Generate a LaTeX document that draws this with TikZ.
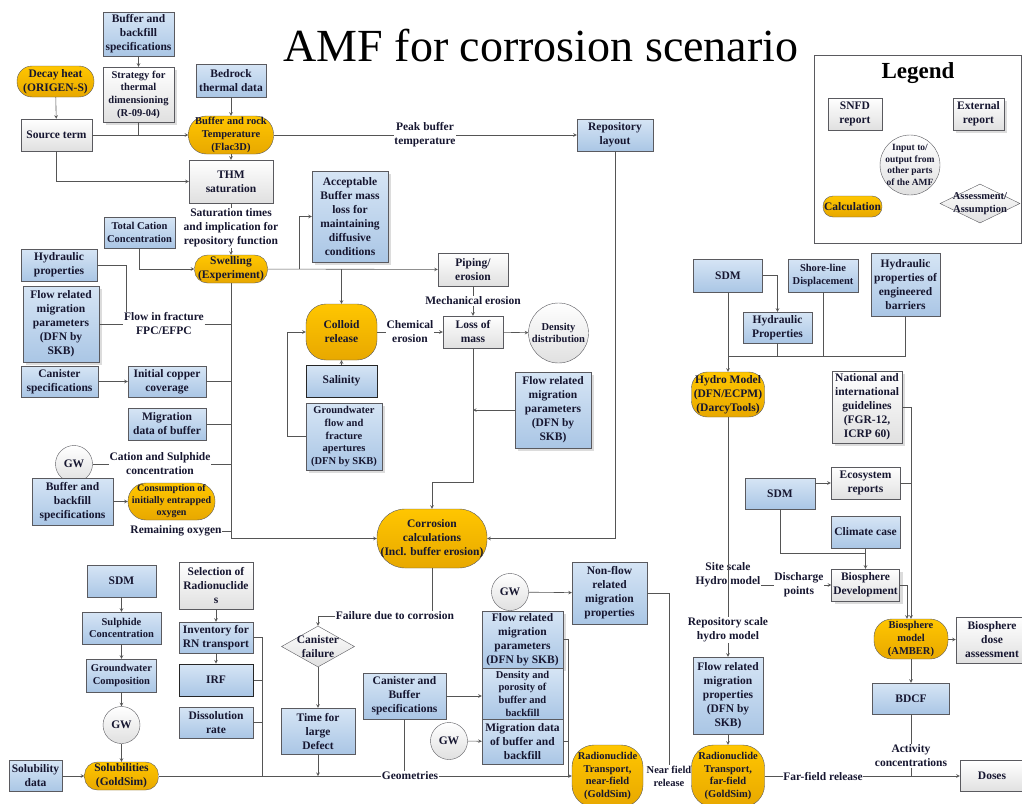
\documentclass[tikz,border=0pt]{standalone}
\usepackage{fontspec}
\setmainfont{Liberation Serif}
\usepackage{tikz}
\usetikzlibrary{positioning,shapes,arrows,calc,shadows}

\definecolor{bluetop}{RGB}{214,229,245}
\definecolor{bluebot}{RGB}{170,198,229}
\definecolor{orgtop}{RGB}{255,198,0}
\definecolor{orgbot}{RGB}{232,168,0}
\definecolor{greybot}{RGB}{224,224,224}
\definecolor{bord}{RGB}{90,90,95}
\definecolor{linec}{RGB}{85,85,85}
\definecolor{txt}{RGB}{22,22,48}

\tikzstyle{base} = [rectangle, draw=bord, align=center, inner sep=0.5pt, text=txt, font=\bfseries\fontsize{11.5}{14}\selectfont]
\tikzstyle{small} = [font=\bfseries\fontsize{10.5}{12.7}\selectfont]
\tikzstyle{datab} = [base, top color=bluetop, bottom color=bluebot]
\tikzstyle{rep} = [base, top color=white, bottom color=greybot]
\tikzstyle{calcn} = [base, rounded corners=13pt, top color=orgtop, bottom color=orgbot]
\tikzstyle{gwc} = [base, circle, top color=white, bottom color=greybot, minimum size=37pt]
\tikzstyle{assess} = [base, diamond, top color=white, bottom color=greybot, inner sep=0pt]
\tikzstyle{lbl} = [align=center, inner sep=0.5pt, text=txt, font=\bfseries\fontsize{11.5}{14}\selectfont]
\tikzstyle{shad} = [drop shadow={shadow xshift=3pt, shadow yshift=-3pt, fill=gray!55}]
\tikzstyle{heavy} = [draw=black!85, line width=1pt]
\tikzstyle{conn} = [draw=linec, line width=0.6pt]
\tikzstyle{arrow} = [conn,->,>=stealth]
\tikzset{wh/.style 2 args={minimum width=#1pt, minimum height=#2pt}}

\begin{document}
\begin{tikzpicture}[x=1pt, y=-1pt]
\useasboundingbox (0,0) rectangle (1022,803);

\node (title) [lbl, text=black, font=\fontsize{46}{46}\selectfont] at (541,46) {AMF for corrosion scenario};

% legend
\node (legend) [draw=bord, minimum width=207pt, minimum height=188pt] at (917.5,149) {};
\node (legtitle) [lbl, text=black, font=\bfseries\fontsize{23}{23}\selectfont] at (918,73) {Legend};
\node (snfd) [rep, wh={54}{32}] at (855,114) {SNFD\\report};
\node (extr) [rep, shad, wh={51}{32}] at (978.5,114) {External\\report};
\node (inout) [gwc, minimum size=60pt] at (910,165) {};
\node (inouttxt) [lbl, font=\bfseries\fontsize{9.5}{11.5}\selectfont] at (inout) {Input to/\\output from\\other parts\\of the AMF};
\node (calclg) [calcn, rounded corners=10pt, wh={59}{21}] at (852.5,206.5) {Calculation};
\node (assum) [assess, wh={80}{39}] at (980,203.5) {};
\node (assumtxt) [lbl, small] at (assum) {Assessment/\\Assumption};

% thermal part
\node (bbsa) [datab, wh={71}{44}] at (138.5,34) {Buffer and\\backfill\\specifications};
\node (decay) [calcn, rounded corners=15pt, wh={77}{31}] at (55.5,81.5) {Decay heat\\(ORIGEN-S)};
\node (strat) [rep, shad, small, wh={71}{55}] at (138.5,94.5) {Strategy for\\thermal\\dimensioning\\(R-09-04)};
\node (bedrock) [datab, wh={70}{33}] at (231,80.5) {Bedrock\\thermal data};
\node (source) [rep, wh={71}{32}] at (56.5,135) {Source term};
\node (temp) [calcn, small, rounded corners=18pt, wh={85}{38}] at (231,135) {Buffer and rock\\Temperature\\(Flac3D)};
\node (thm) [rep, wh={84}{43}] at (231,181.5) {THM\\saturation};
\node (satlbl) [lbl] at (231,228) {Saturation times\\and implication for\\repository function};
\node (peaklbl) [lbl] at (425,135) {Peak buffer\\temperature};
\node (layout) [datab, wh={76}{32}] at (615,135) {Repository\\layout};

% buffer and canister inputs
\node (tcc) [datab, small, wh={71}{31}] at (139.5,232.5) {Total Cation\\Concentration};
\node (swell) [calcn, wh={73}{28}] at (231,269) {Swelling\\(Experiment)};
\node (hydp) [datab, wh={76}{32}] at (59,265) {Hydraulic\\properties};
\node (frpa) [datab, shad, wh={76}{76}] at (61,324) {Flow related\\migration\\parameters\\(DFN by\\SKB)};
\node (flowlbl) [lbl] at (164,324) {Flow in fracture\\FPC/EFPC};
\node (cans) [datab, wh={77}{31}] at (59.5,381.5) {Canister\\specifications};
\node (copper) [datab, wh={78}{31}] at (167,381.5) {Initial copper\\coverage};
\node (migb) [datab, wh={78}{32}] at (167,424) {Migration\\data of buffer};
\node (gwa) [gwc] at (74,464) {GW};
\node (catlbl) [lbl] at (160,464) {Cation and Sulphide\\concentration};
\node (bbsb) [datab, wh={81}{47}] at (72.5,501.5) {Buffer and\\backfill\\specifications};
\node (oxy) [calcn, font=\bfseries\fontsize{10}{12}\selectfont, rounded corners=18pt, wh={87}{37}] at (171.5,501.5) {Consumption of\\initially entrapped\\oxygen};
\node (remlbl) [lbl] at (176,531) {Remaining oxygen};

% erosion
\node (accb) [datab, shad, wh={76}{91}] at (350,216.5) {Acceptable\\Buffer mass\\loss for\\maintaining\\diffusive\\conditions};
\node (piping) [rep, wh={70}{33}] at (473,269.5) {Piping/\\erosion};
\node (colloid) [calcn, rounded corners=20pt, wh={71}{56}] at (341.5,332) {Colloid\\release};
\node (salin) [datab, heavy, wh={71}{32}] at (341.5,381) {Salinity};
\node (gwflow) [datab, shad, small, wh={76}{67}] at (344,436.5) {Groundwater\\flow and\\fracture\\apertures\\(DFN by SKB)};
\node (chemlbl) [lbl] at (410,332) {Chemical\\erosion};
\node (mechlbl) [lbl] at (473,301) {Mechanical erosion};
\node (loss) [rep, wh={60}{32}] at (473,332) {Loss of\\mass};
\node (density) [gwc, small, minimum size=60pt] at (558.5,333) {Density\\distribution};
\node (frpb) [datab, shad, wh={76}{76}] at (553,410) {Flow related\\migration\\parameters\\(DFN by\\SKB)};
\node (corr) [calcn, rounded corners=28pt, wh={110}{59}] at (432,538.5) {Corrosion\\calculations\\(Incl. buffer erosion)};

% failure and near field
\node (faillbl) [lbl] at (395,616) {Failure due to corrosion};
\node (fail) [assess, wh={73}{41}] at (318,646.5) {};
\node (failtxt) [lbl] at (fail) {Canister\\failure};
\node (ldef) [datab, wh={74}{46}] at (318,731) {Time for\\large\\Defect};
\node (cbs) [datab, wh={83}{46}] at (404.5,696) {Canister and\\Buffer\\specifications};
\node (gwb) [gwc] at (510,592) {GW};
\node (nonflow) [datab, wh={75}{62}] at (609.5,593) {Non-flow\\related\\migration\\properties};
\node (frpc) [datab, shad, wh={81}{57}] at (522.5,639.5) {Flow related\\migration\\parameters\\(DFN by SKB)};
\node (dens) [datab, small, wh={81}{51}] at (522.5,693.5) {Density and\\porosity of\\buffer and\\backfill};
\node (migbb) [datab, wh={81}{45}] at (522.5,741.5) {Migration data\\of buffer and\\backfill};
\node (gwc) [gwc] at (449,741) {GW};
\node (rnnear) [calcn, small, rounded corners=22pt, wh={71}{62}] at (607.5,776) {Radionuclide\\Transport,\\near-field\\(GoldSim)};
\node (nearlbl) [lbl, small] at (669,776) {Near field\\release};
\node (geomlbl) [lbl] at (410,776) {Geometries};

% solubility and inventory
\node (sdmc) [datab, wh={69}{32}] at (121.5,581) {SDM};
\node (sulph) [datab, small, wh={79}{32}] at (121.5,628) {Sulphide\\Concentration};
\node (gwcomp) [datab, small, wh={70}{33}] at (121.5,675.5) {Groundwater\\Composition};
\node (gwd) [gwc] at (121.5,725) {GW};
\node (solub) [calcn, wh={74}{28}] at (121.5,776) {Solubilities\\(GoldSim)};
\node (soldat) [datab, wh={53}{31}] at (35.5,776) {Solubility\\data};
\node (selrn) [rep, wh={74}{47}] at (216,585.5) {Selection of\\Radionuclide\\s};
\node (inv) [datab, wh={74}{31}] at (216,637.5) {Inventory for\\RN transport};
\node (irf) [datab, heavy, wh={74}{32}] at (216,680) {IRF};
\node (dissol) [datab, wh={74}{31}] at (216,722.5) {Dissolution\\rate};

% hydro and far field
\node (sdma) [datab, wh={69}{33}] at (728,275.5) {SDM};
\node (shore) [datab, small, wh={70}{33}] at (823,275.5) {Shore-line\\Displacement};
\node (hpeng) [datab, wh={69}{63}] at (905.5,284.5) {Hydraulic\\properties of\\engineered\\barriers};
\node (hydprop) [datab, wh={69}{31}] at (777.5,327.5) {Hydraulic\\Properties};
\node (hydro) [calcn, rounded corners=16pt, wh={73}{45}] at (728,394.5) {Hydro Model\\(DFN/ECPM)\\(DarcyTools)};
\node (sitelbl) [lbl] at (728,575) {Site scale\\Hydro model};
\node (replbl) [lbl] at (728,630) {Repository scale\\hydro model};
\node (frpd) [datab, wh={70}{77}] at (728,695.5) {Flow related\\migration\\properties\\(DFN by\\SKB)};
\node (rnfar) [calcn, small, rounded corners=22pt, wh={73}{62}] at (728,776) {Radionuclide\\Transport,\\far-field\\(GoldSim)};
\node (farlbl) [lbl] at (823,776) {Far-field release};
\node (natl) [rep, shad, wh={70}{72}] at (867,407) {National and\\international\\guidelines\\(FGR-12,\\ICRP 60)};
\node (sdmb) [datab, wh={70}{31}] at (780,493.5) {SDM};
\node (eco) [rep, wh={69}{32}] at (865.5,483) {Ecosystem\\reports};
\node (climate) [datab, wh={69}{32}] at (865.5,532) {Climate case};
\node (dischlbl) [lbl] at (799,585) {Discharge\\points};
\node (biodev) [rep, shad, wh={68}{32}] at (865.5,585) {Biosphere\\Development};
\node (biomod) [calcn, small, rounded corners=18pt, wh={74}{40}] at (911,639) {Biosphere\\model\\(AMBER)};
\node (biodose) [rep, wh={72}{46}] at (992,640) {Biosphere\\dose\\assessment};
\node (bdcf) [datab, wh={77}{31}] at (911,698.5) {BDCF};
\node (actlbl) [lbl] at (911,756) {Activity\\concentrations};
\node (doses) [rep, wh={64}{31}] at (992,776) {Doses};

\coordinate (jsw) at (299,269);
\coordinate (jloss) at (473,482);
\coordinate (jstack) at (568,776);
\coordinate (jrn) at (262,776);
\coordinate (jhyd) at (728,356);
\coordinate (jbio) at (865.5,553);

% thermal
\draw [arrow] (decay) -- (source);
\draw [arrow] (bbsa) -- (strat);
\draw [conn] (strat) -- (strat |- source);
\draw [arrow] (source) -- (temp);
\draw [arrow] (bedrock) -- (temp);
\draw [arrow] (source) |- (thm);
\draw [arrow] (temp) -- (thm);
\draw [conn] (temp) -- (peaklbl);
\draw [arrow] (peaklbl) -- (layout);
\draw [conn] (thm) -- (satlbl);
\draw [arrow] (satlbl) -- (swell);
\draw [arrow] (tcc) |- (swell);

% trunk into corrosion
\draw [arrow] (swell) |- (corr);
\draw [conn] (hydp) -| ([xshift=3pt]flowlbl.north west);
\draw [conn] (frpa) -- (flowlbl);
\draw [conn] (flowlbl) -- (flowlbl -| swell);
\draw [arrow] (cans) -- (copper);
\draw [conn] (copper) -- (copper -| swell);
\draw [conn] (migb) -- (migb -| swell);
\draw [conn] (gwa) -- (catlbl);
\draw [conn] (catlbl) -- (catlbl -| swell);
\draw [arrow] (bbsb) -- (oxy);
\draw [conn] (remlbl) -- (remlbl -| swell);

% erosion
\draw [arrow] (swell) -- (piping);
\draw [arrow] (jsw) |- (accb);
\draw [arrow] (colloid |- swell) -- (colloid);
\draw [arrow] (salin) -- (colloid);
\draw [arrow] (gwflow.west) -- ++(-19,0) |- (colloid);
\draw [conn] (colloid) -- (chemlbl);
\draw [arrow] (chemlbl) -- (loss);
\draw [conn] (piping) -- (mechlbl);
\draw [arrow] (mechlbl) -- (loss);
\draw [arrow] (loss) -- (density);
\draw [arrow] (loss) -- (jloss) -| (corr);
\draw [arrow] (frpb) -- (frpb -| loss);
\draw [arrow] (layout) |- (corr);

% failure and near field
\draw [conn] (corr) -- (corr |- faillbl.north);
\draw [arrow] (faillbl) -| (fail);
\draw [arrow] (fail) -- (ldef);
\draw [arrow] (ldef) -- (ldef |- solub);
\draw [conn] (solub) -- (geomlbl);
\draw [arrow] (geomlbl) -- (rnnear);
\draw [conn] (cbs) -- (cbs |- geomlbl.north);
\draw [arrow] (cbs) -- (cbs -| dens.west);
\draw [arrow] (gwb) -- (nonflow);
\draw [arrow] (gwc) -- (migbb);
\draw [conn] (frpc) -| (jstack);
\draw [conn] (migbb) -- (migbb -| jstack);
\draw [conn] (nonflow) -| (nearlbl);

% solubility and inventory
\draw [arrow] (sdmc) -- (sulph);
\draw [arrow] (sulph) -- (gwcomp);
\draw [arrow] (gwcomp) -- (gwd);
\draw [arrow] (gwd) -- (solub);
\draw [arrow] (soldat) -- (solub);
\draw [arrow] (selrn) -- (inv);
\draw [arrow] (inv) -- (irf);
\draw [conn] (inv) -| (jrn);
\draw [conn] (irf) -- (irf -| jrn);
\draw [conn] (dissol) -- (dissol -| jrn);

% hydro and far field
\draw [arrow] (sdma) -| (hydprop);
\draw [arrow] (sdma) -- (hydro);
\draw [conn] (hpeng) |- (jhyd);
\draw [conn] (hydprop) -- (hydprop |- jhyd);
\draw [conn] (shore) -- (shore |- jhyd);
\draw [conn] (hydro) -- (replbl);
\draw [arrow] (replbl) -- (frpd);
\draw [arrow] (frpd) -- (rnfar);
\draw [conn] (rnfar) -- (farlbl);
\draw [arrow] (farlbl) -- (doses);
\draw [conn] (sitelbl.east |- dischlbl) -- (dischlbl);
\draw [arrow] (dischlbl) -- (biodev);
\draw [arrow] (sdmb.east |- eco) -- (eco);
\draw [conn] (sdmb) |- (jbio);
\draw [arrow] (climate) -- (biodev);
\draw [arrow] (natl) -| (biomod);
\draw [conn] (eco) -- (eco -| biomod);
\draw [arrow] (biodev) -| ([xshift=-4pt]biomod.north);
\draw [arrow] (biomod) -- (biodose);
\draw [arrow] (biomod) -- (bdcf);
\draw [conn] (bdcf) -- (actlbl);
\draw [conn] (actlbl) -- (actlbl |- farlbl);

\end{tikzpicture}
\end{document}
